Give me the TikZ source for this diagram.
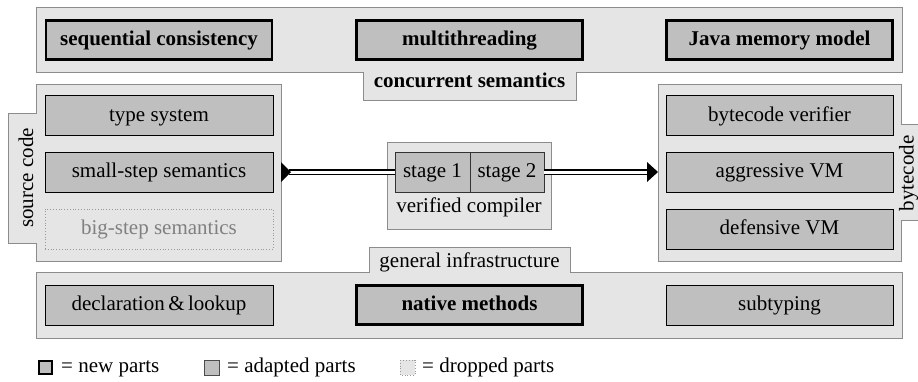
\documentclass[tikz,border=0pt]{standalone}
\usepackage{fontspec}
\setmainfont{Liberation Serif}
\begin{document}
\begin{tikzpicture}[x=1pt,y=-1pt,
  every node/.style={font=\fontsize{21}{25}\selectfont, inner sep=0pt},
  grp/.style={draw=black!45, fill=black!10, line width=0.8pt},
  part/.style={draw=black, fill=black!25, line width=0.8pt, minimum height=40pt, minimum width=228pt, text height=15pt, text depth=4pt},
  newpart/.style={part, line width=2.6pt, minimum height=39pt, minimum width=226pt, font=\fontsize{21}{25}\selectfont\bfseries},
  dropped/.style={part, draw=black!40, dotted, fill=black!10, text=black!50},
  conn/.style={draw=black, double=white, double distance=3pt, line width=1.1pt},
  tipfill/.style={fill=black}]
\useasboundingbox (0,0) rectangle (918,381);
% groups
\draw[grp] (36,7) -- (902,7) -- (902,72) -- (576,72) -- (576,100) -- (363,100) -- (363,72) -- (36,72) -- cycle;
\draw[grp] (36,84) -- (281,84) -- (281,261) -- (36,261) -- (36,243) -- (8,243) -- (8,113) -- (36,113) -- cycle;
\draw[grp] (658,84) -- (901,84) -- (901,124) -- (930,124) -- (930,220) -- (901,220) -- (901,261) -- (658,261) -- cycle;
\draw[grp] (387,142) rectangle (551,229);
\draw[grp] (36,272) -- (369,272) -- (369,247) -- (570,247) -- (570,272) -- (902,272) -- (902,338) -- (36,338) -- cycle;
% group labels
\node[font=\fontsize{21}{25}\selectfont\bfseries, anchor=base] (lconc) at (469.5,87.5) {concurrent semantics};
\node[anchor=base] (linfra) at (469.5,267) {general infrastructure};
\node[rotate=90, anchor=base] (lsrc) at (33,178) {source code};
\node[rotate=90, anchor=base] (lbc) at (913.5,173.5) {bytecode};
\node[anchor=base] (lcomp) at (469,212) {verified compiler};
% top parts
\node[newpart] (seq) at (159,40) {sequential consistency};
\node[newpart] (mt) at (469.5,40) {multithreading};
\node[newpart] (jmm) at (779.5,40) {Java memory model};
% source code parts
\node[part] (ts) at (159,115.5) {type system};
\node[part] (ss) at (159,172) {small-step semantics};
\node[dropped] (bs) at (159,229) {big-step semantics};
% bytecode parts
\node[part, minimum width=227pt] (bv) at (779.5,115.5) {bytecode verifier};
\node[part, minimum width=227pt] (avm) at (779.5,172) {aggressive VM};
\node[part, minimum width=227pt] (dvm) at (779.5,229) {defensive VM};
% compiler stages
\node[part, minimum width=75pt, draw=black!80] (s1) at (432.5,172) {stage 1};
\node[part, minimum width=74pt, draw=black!80] (s2) at (507,172) {stage 2};
% infrastructure parts
\node[part] (decl) at (159,305) {declaration\,\&\,lookup};
\node[newpart] (nat) at (469.5,305) {native methods};
\node[part, minimum width=227pt] (sub) at (779.5,305) {subtyping};
% connectors
\coordinate (a0) at (281,172);
\coordinate (a1) at (289,172);
\coordinate (b1) at (648,172);
\coordinate (b0) at (658,172);
\draw[conn] (a1) -- (s1.west);
\draw[conn] (s2.east) -- (b1);
\fill[tipfill] (a0) ++(0,-10) -- ++(10,10) -- ++(-10,10) -- cycle;
\fill[tipfill] (b0) -- ++(-11,-10) -- ++(0,20) -- cycle;
% legend
\draw[draw=black, fill=black!25, line width=2.2pt] (39,361) rectangle (52,374);
\node[anchor=base west] (t1) at (61,372) {= new parts};
\draw[draw=black!70, fill=black!25, line width=0.8pt] (204,360) rectangle (219,375);
\node[anchor=base west] (t2) at (227,372) {= adapted parts};
\draw[draw=black!40, dotted, fill=black!10, line width=0.8pt] (400,360) rectangle (415,375);
\node[anchor=base west] (t3) at (422,372) {= dropped parts};
\end{tikzpicture}
\end{document}
